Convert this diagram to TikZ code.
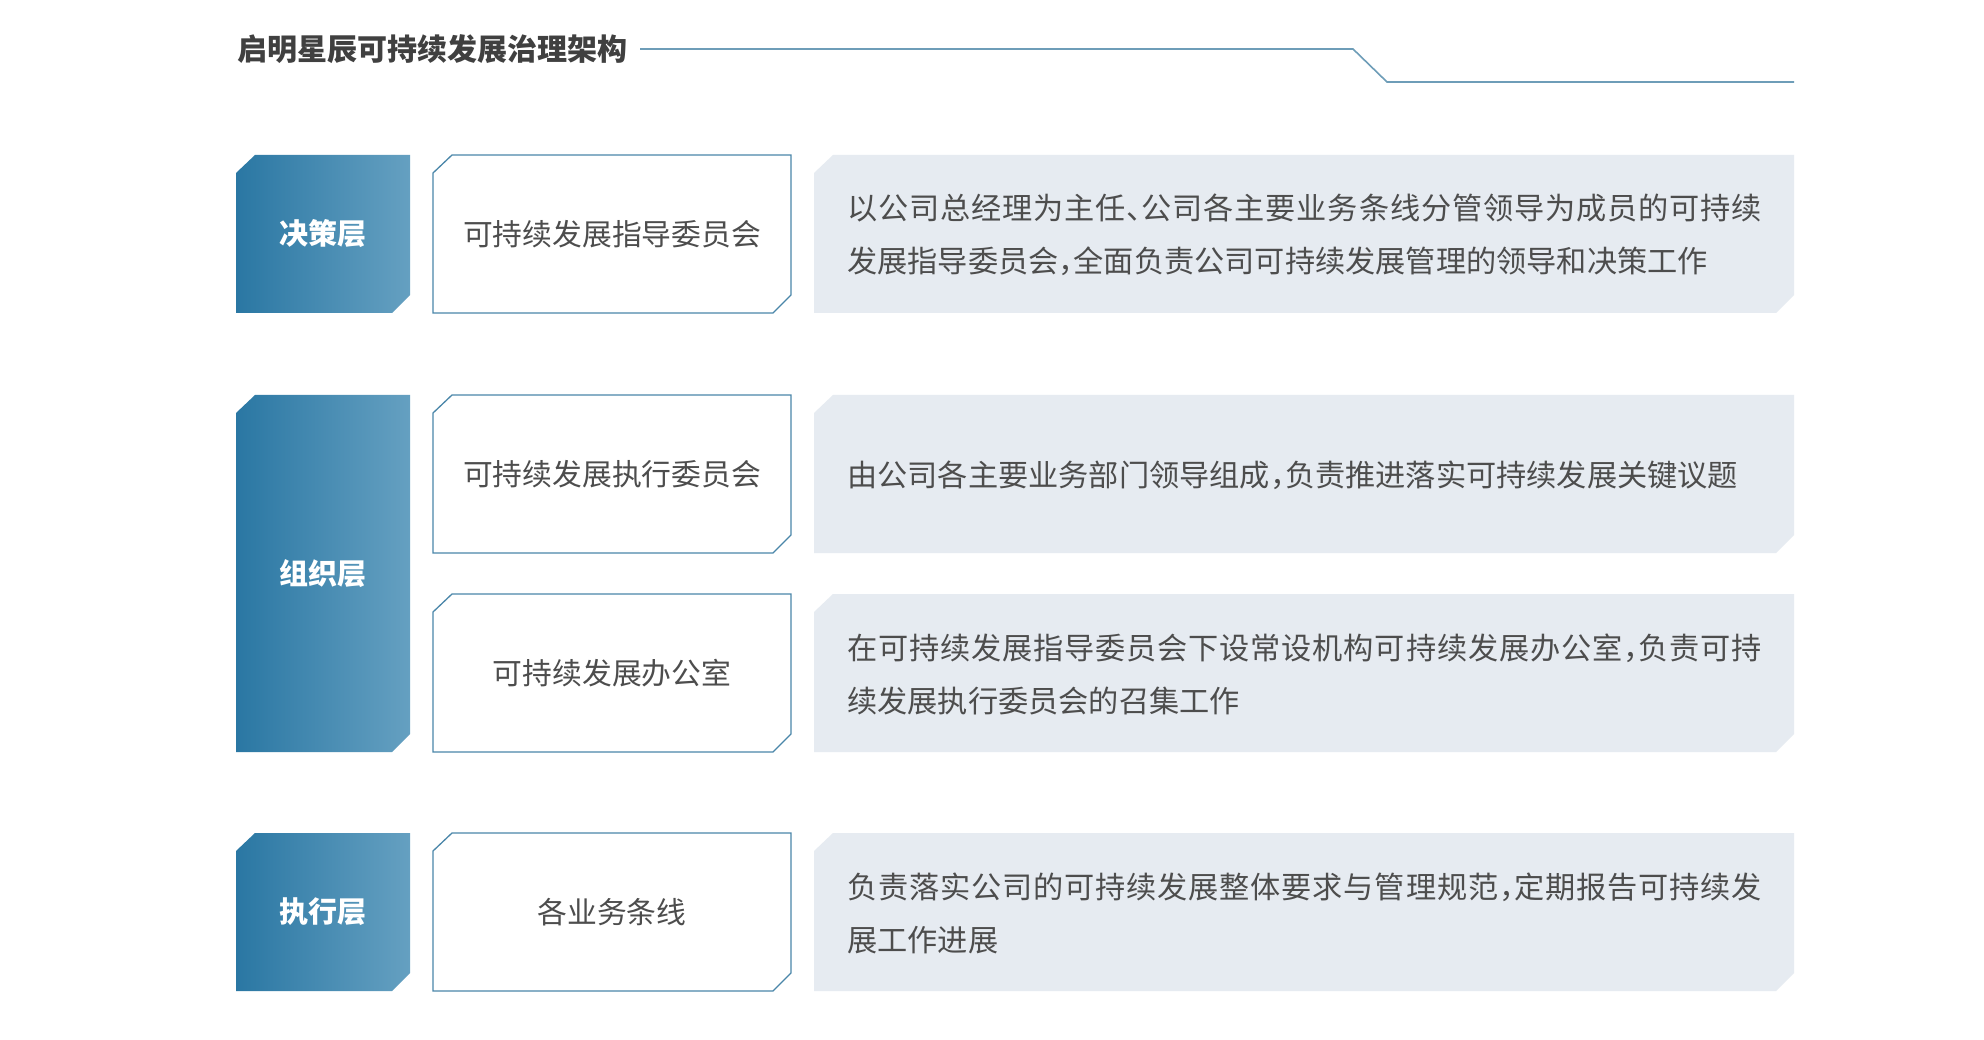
\documentclass[tikz,border=0pt]{standalone}
\usepackage{fontspec}
\newfontfamily\cjk{Noto Sans CJK SC}
\newfontfamily\cjkjust{Noto Sans CJK SC}[LetterSpace=2.8]
\definecolor{titlegray}{HTML}{404040}
\definecolor{txtgray}{HTML}{4D4D4D}
\definecolor{lineblue}{HTML}{6E9DB8}
\definecolor{darkblue}{HTML}{2A77A3}
\definecolor{lightblue}{HTML}{65A0C1}
\definecolor{borderblue}{HTML}{4A86A9}
\definecolor{panel}{HTML}{E6EBF1}
\newcommand{\hcomma}{，\kern-0.5em}
\newcommand{\hdun}{、\kern-0.5em}
\newcommand{\jline}[1]{{\cjkjust\fontsize{30.2}{53}\selectfont #1}}
\tikzset{
  x=1pt, y=-1pt,
  titletext/.style={font=\cjk\bfseries\fontsize{30}{36}\selectfont, text=titlegray, anchor=west, inner sep=0pt},
  layertext/.style={font=\cjk\bfseries\fontsize{29}{34}\selectfont, text=white, inner sep=0pt},
  boxtext/.style={font=\cjk\fontsize{29.8}{34}\selectfont, text=txtgray, inner sep=0pt},
  desctext/.style={font=\cjk\fontsize{30.2}{53}\selectfont, text=txtgray, anchor=west, align=left, inner sep=0pt},
  midbox/.style={draw=borderblue, line width=1.3pt, fill=white},
  descbox/.style={fill=panel},
  layerbox/.style={left color=darkblue, right color=lightblue},
}
% chamfered rectangle: x1,y1,x2,y2
\newcommand{\chamf}[4]{(#1+19,#2) -- (#3,#2) -- (#3,#4-18) -- (#3-18,#4) -- (#1,#4) -- (#1,#2+18) -- cycle}
\begin{document}
\begin{tikzpicture}
\useasboundingbox (0,0) rectangle (1984,1040);
\fill[white] (0,0) rectangle (1984,1040);

% title
\node[titletext] (title) at (237,49) {启明星辰可持续发展治理架构};
\coordinate (l0) at (640,49);
\coordinate (l1) at (1353,49);
\coordinate (l2) at (1387,82);
\coordinate (l3) at (1794,82);
\draw[lineblue, line width=1.6pt] (l0) -- (l1) -- (l2) -- (l3);

% layer boxes
\shade[layerbox] \chamf{236}{155}{410}{313};
\shade[layerbox] \chamf{236}{395}{410}{752};
\shade[layerbox] \chamf{236}{833}{410}{991};
\node[layertext] (L1) at (323,234) {决策层};
\node[layertext] (L2) at (323,574) {组织层};
\node[layertext] (L3) at (323,912) {执行层};

% middle boxes
\draw[midbox] \chamf{433}{155}{791}{313};
\draw[midbox] \chamf{433}{395}{791}{553};
\draw[midbox] \chamf{433}{594}{791}{752};
\draw[midbox] \chamf{433}{833}{791}{991};
\node[boxtext] (M1) at (612,234) {可持续发展指导委员会};
\node[boxtext] (M2) at (612,474) {可持续发展执行委员会};
\node[boxtext] (M3) at (612,673) {可持续发展办公室};
\node[boxtext] (M4) at (612,912) {各业务条线};

% description boxes
\fill[descbox] \chamf{814}{155}{1794}{313};
\fill[descbox] \chamf{814}{395}{1794}{553};
\fill[descbox] \chamf{814}{594}{1794}{752};
\fill[descbox] \chamf{814}{833}{1794}{991};
\node[desctext] (D1) at (847,235) {\jline{以公司总经理为主任\hdun 公司各主要业务条线分管领导为成员的可持续}\\发展指导委员会\hcomma 全面负责公司可持续发展管理的领导和决策工作};
\node[desctext] (D2) at (847,475) {由公司各主要业务部门领导组成\hcomma 负责推进落实可持续发展关键议题};
\node[desctext] (D3) at (847,674) {\jline{在可持续发展指导委员会下设常设机构可持续发展办公室\hcomma 负责可持}\\续发展执行委员会的召集工作};
\node[desctext] (D4) at (847,913) {\jline{负责落实公司的可持续发展整体要求与管理规范\hcomma 定期报告可持续发}\\展工作进展};
\end{tikzpicture}
\end{document}
